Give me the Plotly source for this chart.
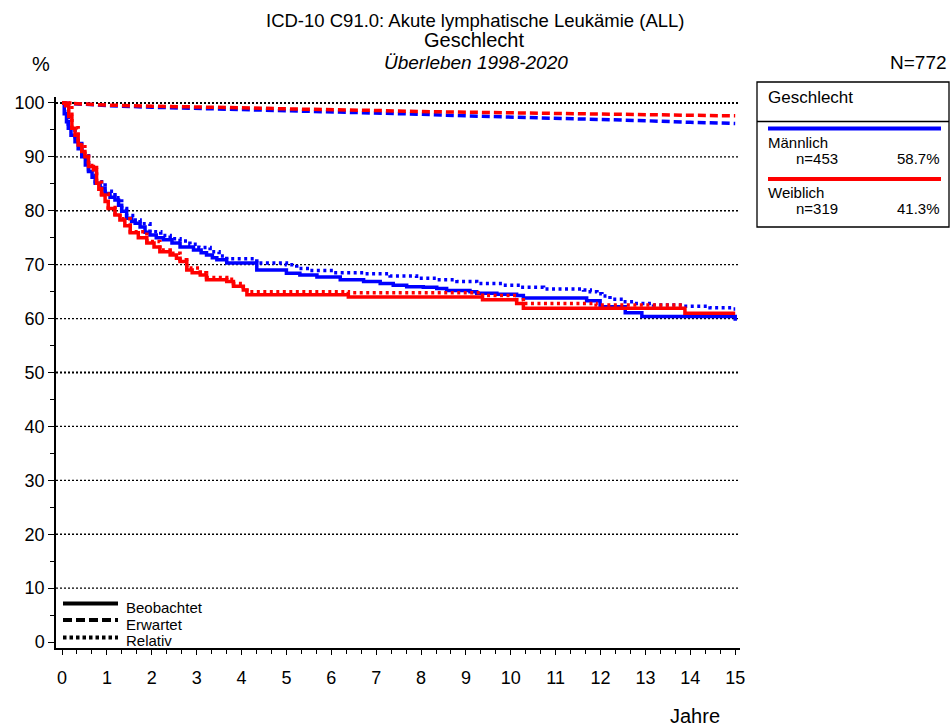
import plotly.graph_objects as go

# ---------------- data ----------------
male_obs_t = [0, 0.05, 0.1, 0.14, 0.2, 0.29, 0.36, 0.44, 0.52, 0.59, 0.67, 0.74, 0.85, 0.96, 1.07,
              1.18, 1.26, 1.33, 1.44, 1.55, 1.63, 1.74, 1.85, 1.96, 2.1, 2.26, 2.45, 2.63, 2.93,
              3.1, 3.22, 3.35, 3.45, 3.67, 4.34, 5.0, 5.3, 5.68, 6.2, 6.72, 7.09, 7.38, 7.68,
              8.05, 8.35, 8.57, 9.09, 9.24, 9.69, 10.13, 10.28, 11.69, 11.99, 12.55, 12.92, 15.0]
male_obs_s = [100, 98, 96.5, 95.3, 94, 92.8, 91.5, 90, 88.5, 87.3, 86.2, 85.1, 84.2, 83.2, 82.5,
              82, 81, 79.9, 78.6, 78, 77.7, 77, 76, 75.5, 75, 74.6, 74, 73.3, 72.7,
              72.2, 71.8, 71.3, 70.9, 70.3, 69.0, 68.4, 68.1, 67.7, 67.2, 66.9, 66.5, 66.2, 65.9,
              65.8, 65.6, 65.2, 65.0, 64.7, 64.5, 64.3, 63.8, 63.3, 62.2, 61.1, 60.4, 59.6]

male_rel_t = [0, 0.14, 0.29, 0.44, 0.59, 0.74, 0.96, 1.18, 1.33, 1.44, 1.63, 1.74, 1.96, 2.2, 2.41,
              2.63, 2.85, 3.05, 3.3, 3.5, 3.67, 4.34, 5.0, 5.23, 5.53, 6.05, 6.72, 7.31, 7.9, 8.35,
              8.8, 9.24, 9.84, 10.2, 10.73, 11.62, 11.77, 11.92, 12.03, 12.21, 12.51, 12.73, 13.18,
              13.85, 14.44, 14.92, 15.0]
male_rel_s = [100, 95.4, 93, 90.2, 87.6, 85.4, 83.6, 82.4, 80.4, 79.1, 78.3, 77.6, 76.1, 75.4, 74.8,
              74.4, 73.8, 73.2, 72.4, 71.6, 71.1, 70.3, 70.0, 69.3, 68.9, 68.5, 68.3, 67.9, 67.5, 67.2,
              66.9, 66.5, 66.2, 65.8, 65.5, 65.3, 65.0, 64.6, 64.2, 63.6, 63.1, 62.8, 62.5,
              62.3, 62.0, 61.8, 61.8]

male_exp_t = list(range(0, 16))
male_exp_s = [100, 99.5, 99.2, 99.0, 98.8, 98.5, 98.3, 98.1, 97.9, 97.6, 97.4, 97.2, 96.9, 96.7, 96.4, 96.2]

female_obs_t = [0, 0.08, 0.15, 0.22, 0.29, 0.36, 0.44, 0.51, 0.59, 0.7, 0.77, 0.82, 0.88, 0.96, 1.03,
                1.18, 1.29, 1.4, 1.52, 1.7, 1.89, 2.05, 2.18, 2.41, 2.55, 2.63, 2.78, 2.9, 3.08,
                3.22, 3.67, 3.82, 4.04, 4.12, 6.38, 9.37, 10.13, 10.28, 13.88, 15.0]
female_obs_s = [100, 99.5, 97.5, 95.3, 94, 92.2, 91, 90, 88.2, 87.6, 85.1, 84, 82.9, 81.7, 80.4,
                79.2, 78.3, 77.2, 75.9, 75, 74.0, 73.3, 72.4, 71.8, 71.2, 70.6, 69.0, 68.5, 68.1,
                67.2, 66.9, 66.0, 65.3, 64.4, 64.0, 63.5, 62.8, 61.9, 61.0, 61.0]

female_rel_t = [0, 0.22, 0.36, 0.51, 0.59, 0.77, 0.88, 1.03, 1.18, 1.29, 1.52, 1.89, 2.18, 2.41, 2.63,
                2.78, 3.08, 3.22, 3.67, 3.82, 4.04, 4.12, 6.38, 9.37, 10.13, 10.28, 11.9, 13.85]
female_rel_s = [100, 95.4, 92.3, 90.1, 88.4, 85.3, 83.1, 80.6, 79.4, 78.5, 76.1, 74.3, 72.7, 72.1, 70.9,
                69.4, 68.5, 67.6, 67.3, 66.5, 65.8, 65.0, 64.8, 64.3, 63.5, 62.8, 62.5, 62.4]

female_exp_t = list(range(0, 16))
female_exp_s = [100, 99.6, 99.4, 99.3, 99.1, 98.9, 98.8, 98.6, 98.4, 98.3, 98.1, 98.0, 97.9, 97.8, 97.7, 97.6]

groups = ["Männlich", "Weiblich"]
group_n = ["n=453", "n=319"]
group_pct = ["58.7%", "41.3%"]
x_ticks = list(range(0, 16))
y_ticks = list(range(0, 101, 10))
grid_values = list(range(10, 101, 10))

BLUE = "#0000FF"
RED = "#FF0000"
FONT = "Arial, Liberation Sans, sans-serif"

W, H = 951, 728
L, R, T, B = 56, 740, 97, 648  # plot area in pixels


def fx(px):
    return (px - L) / (R - L)


def fy(py):
    return (B - py) / (B - T)


fig = go.Figure()

DASH = "8px,4px"
DOT = "3px,3.5px"
LW = 3.5

series = [
    (male_exp_t, male_exp_s, BLUE, DASH, "linear"),
    (male_rel_t, male_rel_s, BLUE, DOT, "hv"),
    (male_obs_t, male_obs_s, BLUE, "solid", "hv"),
    (female_exp_t, female_exp_s, RED, DASH, "linear"),
    (female_rel_t, female_rel_s, RED, DOT, "hv"),
    (female_obs_t, female_obs_s, RED, "solid", "hv"),
]
for t, s, c, d, shp in series:
    fig.add_trace(go.Scatter(x=t, y=s, mode="lines",
                             line=dict(color=c, width=LW, dash=d, shape=shp),
                             showlegend=False, hoverinfo="skip"))

shapes = []
for g in grid_values:
    shapes.append(dict(type="line", xref="paper", x0=0, x1=1, yref="y", y0=g, y1=g,
                       line=dict(color="black", width=2 if g in (50, 100) else 1.3, dash="2px,2px"),
                       layer="below"))

# legend box (top right)
shapes.append(dict(type="rect", xref="paper", yref="paper", x0=fx(757), x1=fx(949), y0=fy(227), y1=fy(82),
                   line=dict(color="black", width=1.3)))
shapes.append(dict(type="line", xref="paper", yref="paper", x0=fx(757), x1=fx(949), y0=fy(121.5), y1=fy(121.5),
                   line=dict(color="black", width=1.3)))
for yy, c in [(128.5, BLUE), (179, RED)]:
    shapes.append(dict(type="line", xref="paper", yref="paper", x0=fx(768), x1=fx(941), y0=fy(yy), y1=fy(yy),
                       line=dict(color=c, width=4)))

# line-style legend (bottom left)
for yy, d in [(603.5, "solid"), (620, "9px,4px"), (637.5, "3.5px,3px")]:
    shapes.append(dict(type="line", xref="paper", yref="paper", x0=fx(63), x1=fx(118), y0=fy(yy), y1=fy(yy),
                       line=dict(color="black", width=4, dash=d)))

ann = []


def text(x, y, s, size, xanchor="center", italic=False):
    ann.append(dict(x=fx(x), y=fy(y), xref="paper", yref="paper", text=s, showarrow=False,
                    xanchor=xanchor, yanchor="middle",
                    font=dict(family=FONT, size=size, color="black",
                              style="italic" if italic else "normal")))


text(475, 20, "ICD-10 C91.0: Akute lymphatische Leukämie (ALL)", 18.5)
text(474, 40, "Geschlecht", 20)
text(476, 62, "Überleben 1998-2020", 19, italic=True)
text(41, 64, "%", 20)
text(949, 62, "N=772", 19, xanchor="right")
text(695, 716, "Jahre", 20)

text(766, 97, "Geschlecht", 17, xanchor="left")
for i, (yy1, yy2) in enumerate([(142, 158), (192, 208)]):
    text(766, yy1, groups[i], 15, xanchor="left")
    text(794, yy2, group_n[i], 15, xanchor="left")
    text(942, yy2, group_pct[i], 15, xanchor="right")

text(124, 607, "Beobachtet", 15, xanchor="left")
text(124, 624, "Erwartet", 15, xanchor="left")
text(124, 640, "Relativ", 15, xanchor="left")

fig.update_layout(
    width=W, height=H,
    margin=dict(l=L, r=W - R, t=T, b=H - B, pad=0),
    paper_bgcolor="white", plot_bgcolor="white",
    shapes=shapes, annotations=ann,
    font=dict(family=FONT, color="black"),
    xaxis=dict(range=[-0.134, 15.107], tickvals=x_ticks, showgrid=False, zeroline=False,
               showline=True, linecolor="black", linewidth=1.5,
               ticks="outside", ticklen=5, tickwidth=1.3, tickcolor="black",
               tickfont=dict(size=18, family=FONT, color="black"), ticklabelstandoff=8,
               minor=dict(ticks="outside", ticklen=4, tickwidth=1.2, tickcolor="black",
                          tick0=0, dtick=1 / 3, showgrid=False)),
    yaxis=dict(range=[-1.1, 101.1], tickvals=y_ticks, showgrid=False, zeroline=False,
               showline=True, linecolor="black", linewidth=1.5,
               ticks="outside", ticklen=6, tickwidth=1.3, tickcolor="black",
               tickfont=dict(size=18, family=FONT, color="black"), ticklabelstandoff=0,
               minor=dict(ticks="outside", ticklen=4, tickwidth=1.2, tickcolor="black",
                          tick0=0, dtick=5, showgrid=False)),
)

fig.write_html("out.html", config={"displayModeBar": False},
               post_script="document.body.style.margin='0';document.body.style.overflow='hidden';")
